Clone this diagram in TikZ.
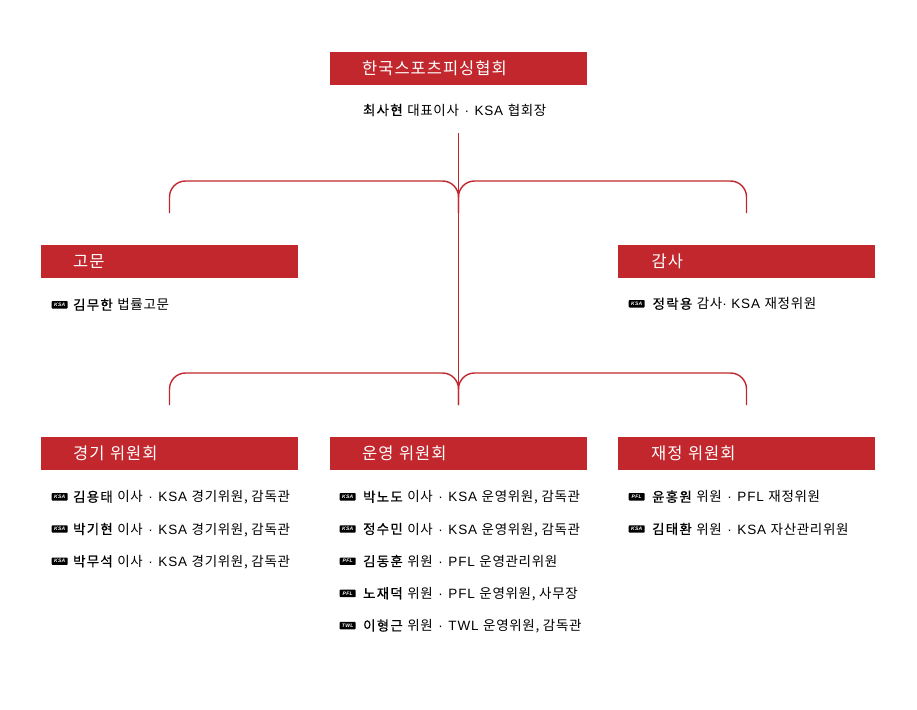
\documentclass[tikz,border=0pt]{standalone}
\usepackage{xcolor}
\usepackage{fontspec}
\setmainfont[LetterSpace=6]{Liberation Sans}
\newfontfamily\krfont[LetterSpace=5]{Noto Sans CJK KR}
\newfontfamily\krhead[LetterSpace=6]{Noto Sans CJK KR}
\newfontfamily\krname[LetterSpace=9,FakeBold=0.6]{Noto Sans CJK KR}
\newcommand{\nm}[1]{{\krname #1}}
\newcommand{\kr}[1]{{\krfont #1}}
\newcommand{\dt}{\hspace{1pt} · \hspace{1pt}}
\usetikzlibrary{positioning}
\definecolor{ksared}{RGB}{194,39,45}

\begin{document}
\begin{tikzpicture}[x=1pt, y=-1pt,
    head/.style={
      fill=ksared, minimum width=257pt, minimum height=32.5pt, inner sep=0pt,
      text=white, text width=193pt, align=left, font=\krhead\fontsize{16.5}{18}\selectfont
    },
    badge/.style={
      fill=black, rounded corners=0.8pt, minimum width=16pt, minimum height=7.4pt, inner sep=0pt,
      text=white, font=\bfseries\itshape\fontsize{5}{5}\selectfont
    },
    row/.style={
      inner sep=0pt, text height=10pt, text depth=0pt, font=\fontsize{13.5}{15}\selectfont
    },
    link/.style={draw=ksared, line width=1.4pt, rounded corners=16pt}
  ]
  \useasboundingbox (0,0) rectangle (917,709);

  % Top block
  \node[head, anchor=north west] (top) at (330,52) {한국스포츠피싱협회};
  \node[row, below=20pt of top, xshift=-4pt] (ceo) {\nm{최사현} \kr{대표이사}\dt KSA \kr{협회장}};

  % Free ends of the connectors
  \coordinate (up) at (458.5,133);
  \coordinate (lefta) at (169.5,213);
  \coordinate (righta) at (746.5,213);
  \coordinate (midal) at (458.5,213);
  \coordinate (leftb) at (169.5,405);
  \coordinate (rightb) at (746.5,405);
  \coordinate (midb) at (458.5,405);

  % Connectors
  \draw[link] (up) -- (midb);
  \draw[link] (lefta) |- (458.5,181) -- (midal);
  \draw[link] (righta) |- (458.5,181) -- (midal);
  \draw[link] (leftb) |- (458.5,373) -- (midb);
  \draw[link] (rightb) |- (458.5,373) -- (midb);

  % Advisor
  \node[head, anchor=north west] (adv) at (41,245) {고문};
  \node[badge, below right=23pt and 10.5pt of adv.south west] (advb) {KSA};
  \node[row, right=5pt of advb] (advt) {\nm{김무한} \kr{법률고문}};

  % Auditor
  \node[head, anchor=north west] (aud) at (618,245) {\hspace{1.5pt}감사};
  \node[badge, below right=22pt and 10.5pt of aud.south west] (audb) {KSA};
  \node[row, right=7.5pt of audb] (audt) {\nm{정락용} \kr{감사}· KSA \kr{재정위원}};

  % Match committee
  \node[head, anchor=north west] (game) at (41,437) {경기 위원회};
  \node[badge, below right=23pt and 10.5pt of game.south west] (gameb1) {KSA};
  \node[row, right=5pt of gameb1] (gamet1) {\nm{김용태} \kr{이사}\dt KSA \kr{경기위원, 감독관}};
  \node[badge, below=24.4pt of gameb1] (gameb2) {KSA};
  \node[row, right=5pt of gameb2] (gamet2) {\nm{박기현} \kr{이사}\dt KSA \kr{경기위원, 감독관}};
  \node[badge, below=24.4pt of gameb2] (gameb3) {KSA};
  \node[row, right=5pt of gameb3] (gamet3) {\nm{박무석} \kr{이사}\dt KSA \kr{경기위원, 감독관}};

  % Operations committee
  \node[head, anchor=north west] (ops) at (330,437) {운영 위원회};
  \node[badge, below right=23pt and 9.5pt of ops.south west] (opsb1) {KSA};
  \node[row, right=7pt of opsb1] (opst1) {\nm{박노도} \kr{이사}\dt KSA \kr{운영위원, 감독관}};
  \node[badge, below=24.4pt of opsb1] (opsb2) {KSA};
  \node[row, right=7pt of opsb2] (opst2) {\nm{정수민} \kr{이사}\dt KSA \kr{운영위원, 감독관}};
  \node[badge, below=24.4pt of opsb2] (opsb3) {PFL};
  \node[row, right=7pt of opsb3] (opst3) {\nm{김동훈} \kr{위원}\dt PFL \kr{운영관리위원}};
  \node[badge, below=24.4pt of opsb3] (opsb4) {PFL};
  \node[row, right=7pt of opsb4] (opst4) {\nm{노재덕} \kr{위원}\dt PFL \kr{운영위원, 사무장}};
  \node[badge, below=24.4pt of opsb4] (opsb5) {TWL};
  \node[row, right=7pt of opsb5] (opst5) {\nm{이형근} \kr{위원}\dt TWL \kr{운영위원, 감독관}};

  % Finance committee
  \node[head, anchor=north west] (fin) at (618,437) {\hspace{1pt}재정 위원회};
  \node[badge, below right=23pt and 10.5pt of fin.south west] (finb1) {PFL};
  \node[row, right=7pt of finb1] (fint1) {\nm{윤홍원} \kr{위원}\dt PFL \kr{재정위원}};
  \node[badge, below=24.4pt of finb1] (finb2) {KSA};
  \node[row, right=7pt of finb2] (fint2) {\nm{김태환} \kr{위원}\dt KSA \kr{자산관리위원}};

\end{tikzpicture}
\end{document}
